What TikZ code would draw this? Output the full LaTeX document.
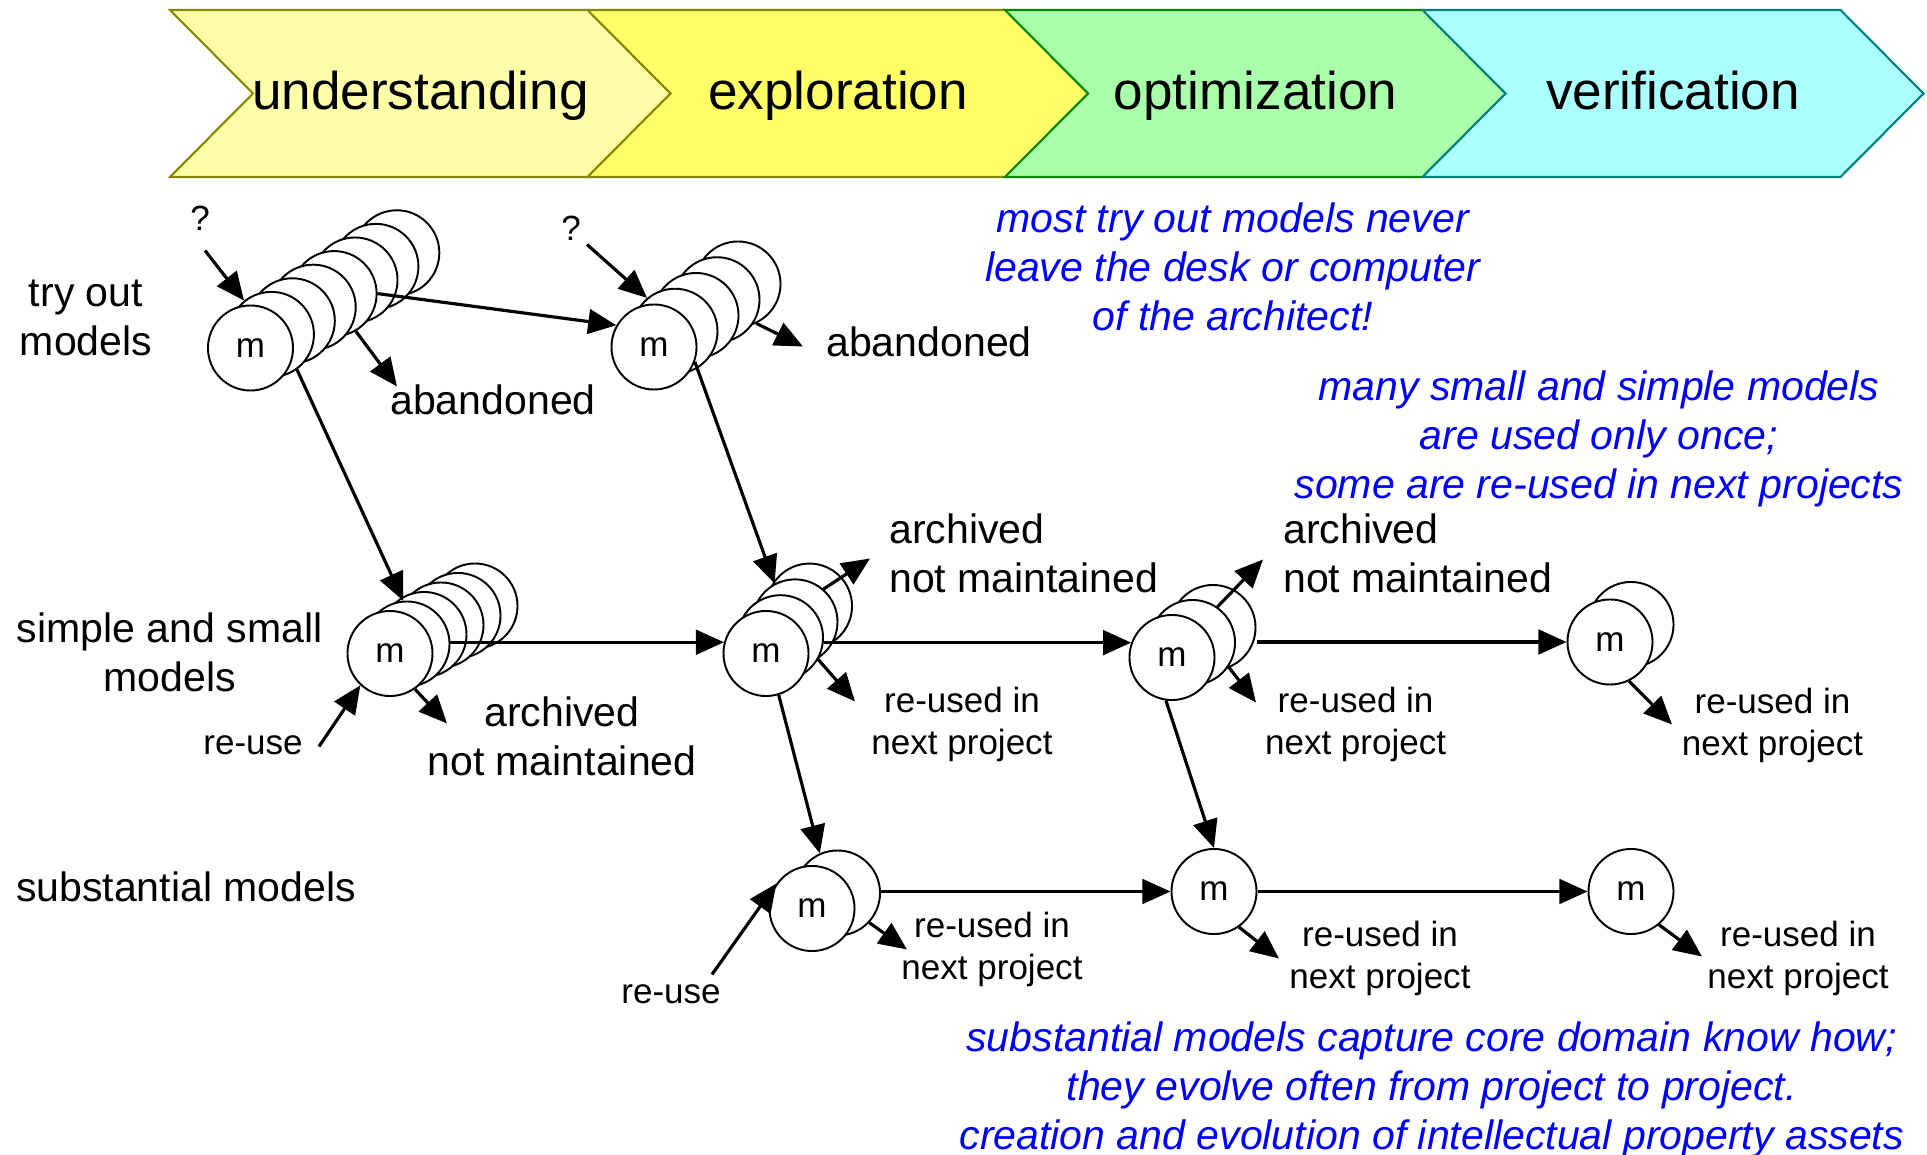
\documentclass[tikz,border=0pt]{standalone}
\usepackage{fontspec}
\setmainfont{Liberation Sans}
\usetikzlibrary{arrows.meta}

\definecolor{undfill}{RGB}{255,255,170}
\definecolor{expfill}{RGB}{255,255,102}
\definecolor{optfill}{RGB}{170,255,170}
\definecolor{verfill}{RGB}{170,255,255}
\definecolor{oliveline}{RGB}{136,136,0}
\definecolor{greenline}{RGB}{0,136,0}
\definecolor{tealline}{RGB}{0,128,128}
\definecolor{noteblue}{RGB}{0,0,255}

\newcommand{\bigsz}{\fontsize{15.1pt}{18pt}\selectfont}
\newcommand{\midsz}{\fontsize{11.67pt}{13.95pt}\selectfont}
\newcommand{\smlsz}{\fontsize{9.96pt}{11.95pt}\selectfont}

\tikzset{
  stage/.style={line width=0.6pt, line join=miter},
  stagetext/.style={font=\bigsz, text height=0.387cm, text depth=0.111cm},
  mdl/.style={circle, draw, fill=white, line width=0.55pt, minimum size=0.85cm,
    inner sep=0pt, font=\smlsz, text height=0.255cm, text depth=0.074cm},
  lbl/.style={font=\midsz, inner sep=1pt},
  one/.style={lbl, text height=0.3cm, text depth=0.086cm},
  small/.style={font=\smlsz, inner sep=1pt, text height=0.255cm, text depth=0.074cm},
  reused/.style={font=\smlsz, inner sep=1pt, align=center},
  note/.style={font=\midsz\itshape, text=noteblue, align=center, inner sep=1pt},
  flow/.style={-{Triangle[length=8pt,width=7pt]}, line width=0.9pt},
}

\begin{document}
\begin{tikzpicture}[x=0.01cm,y=-0.01cm]
\useasboundingbox (0,0) rectangle (1927,1155);

% phases
\foreach \L/\fc/\dc/\txt [count=\k] in {170/undfill/oliveline/understanding,
    587.5/expfill/oliveline/exploration,
    1005/optfill/greenline/optimization,
    1422.5/verfill/tealline/verification} {
  \draw[stage, fill=\fc, draw=\dc] (\L,10) -- ++(418,0) -- ++(83,83.5) -- ++(-83,83.5)
    -- ++(-418,0) -- ++(83,-83.5) -- cycle;
  \node[stagetext] (stage\k) at (\L+250.5,96) {\txt};
}

\begin{scope}[yshift=-0.035cm]
% row labels
\node[lbl, align=center] (row1) at (86,314) {try out\\models};
\node[lbl, align=center] (row2) at (169.6,648.7) {simple and small\\models};
\node[one] (row3) at (186,887) {substantial models};

% model stacks, back to front
\foreach \i in {7,...,1} \node[mdl] (A\i) at (250.5+20.9*\i,344.5-13.6*\i) {};
\node[mdl] (A) at (250.5,344.5) {m};
\foreach \i in {4,...,1} \node[mdl] (B\i) at (654+21*\i,343.5-15.75*\i) {};
\node[mdl] (B) at (654,343.5) {m};
\foreach \i in {5,...,1} \node[mdl] (C\i) at (390+17*\i,650-9.5*\i) {};
\node[mdl] (C) at (390,650) {m};
\foreach \i in {3,...,1} \node[mdl] (D\i) at (766+14.5*\i,650-15.8*\i) {};
\node[mdl] (D) at (766,650) {m};
\foreach \i in {2,1} \node[mdl] (E\i) at (1172+20.5*\i,654-15*\i) {};
\node[mdl] (E) at (1172,654) {m};
\node[mdl] (F1) at (1631,621) {};
\node[mdl] (F) at (1610,638.5) {m};
\node[mdl] (G1) at (837.5,889.5) {};
\node[mdl] (G) at (812,905) {m};
\node[mdl] (H) at (1214,888) {m};
\node[mdl] (I) at (1631,888) {m};

% labels
\node[small] (qA) at (200,218) {?};
\node[small] (qB) at (571,228) {?};
\node[small] (ru1) at (253,742) {re-use};
\node[small] (ru2) at (671,991) {re-use};
\node[one] (ab1) at (493,400) {abandoned};
\node[one] (ab2) at (929,342) {abandoned};
\node[lbl, align=center] (arch1) at (562,733) {archived\\not maintained};
\node[lbl, align=left, anchor=west] (arch2) at (885,549.5) {archived\\not maintained};
\node[lbl, align=left, anchor=west] (arch3) at (1279,549.5) {archived\\not maintained};
\node[reused] (re1) at (962,721) {re-used in\\next project};
\node[reused] (re2) at (1355.6,721) {re-used in\\next project};
\node[reused] (re3) at (1772.5,721.5) {re-used in\\next project};
\node[reused] (re4) at (992,945.5) {re-used in\\next project};
\node[reused] (re5) at (1380,955) {re-used in\\next project};
\node[reused] (re6) at (1798,955) {re-used in\\next project};

% free ends
\coordinate (qA-start) at (205,247);
\coordinate (qB-start) at (587,241);
\coordinate (ru1-start) at (319,743);
\coordinate (ru2-start) at (712,971);
\coordinate (ab1-tip) at (397,383);
\coordinate (ab2-tip) at (803,343);
\coordinate (arch1-tip) at (447,720);
\coordinate (arch2-tip) at (870,555);
\coordinate (arch3-tip) at (1263,556);
\coordinate (re1-tip) at (855,698);
\coordinate (re2-tip) at (1256,699);
\coordinate (re3-tip) at (1672,721);
\coordinate (re4-tip) at (907,946);
\coordinate (re5-tip) at (1279,955);
\coordinate (re6-tip) at (1702,953);

% flows between models
\draw[flow] (qA-start) -- (A1.129);
\draw[flow] (qB-start) -- (B1.130);
\draw[flow] (A4.east) -- (B.150);
\draw[flow] (A1.-54) -- (C1.95);
\draw[flow] (B.-20) -- (D2.118);
\draw[flow] (C1.east |- D.165) -- (D.165);
\draw[flow] (D1.east |- E.160) -- (E.160);
\draw[flow] (E2.east |- F.west) -- (F.west);
\draw[flow] (D.-73) -- (G1.114);
\draw[flow] (E.-98) -- (H.north);
\draw[flow] (G1.east |- H.west) -- (H.west);
\draw[flow] (H.east) -- (I.west);
\draw[flow] (ru1-start) -- (C.227);
\draw[flow] (ru2-start) -- (G.145);

% outcomes
\draw[flow] (A4.-60) -- (ab1-tip);
\draw[flow] (B4.-65) -- (ab2-tip);
\draw[flow] (C.-55) -- (arch1-tip);
\draw[flow] (D2.49) -- (arch2-tip);
\draw[flow] (D1.-30) -- (re1-tip);
\draw[flow] (E1.55) -- (arch3-tip);
\draw[flow] (E1.-34) -- (re2-tip);
\draw[flow] (F.-64) -- (re3-tip);
\draw[flow] (G1.-43) -- (re4-tip);
\draw[flow] (H.-55) -- (re5-tip);
\draw[flow] (I.-50) -- (re6-tip);

% remarks
\node[note] (note1) at (1232.7,263.7) {most try out models never\\leave the desk or computer\\of the architect!};
\node[note] (note2) at (1599,435) {many small and simple models\\are used only once;\\some are re-used in next projects};
\node[note] (note3) at (1431.7,1086.5) {substantial models capture core domain know how;\\they evolve often from project to project.\\creation and evolution of intellectual property assets};
\end{scope}
\end{tikzpicture}
\end{document}
